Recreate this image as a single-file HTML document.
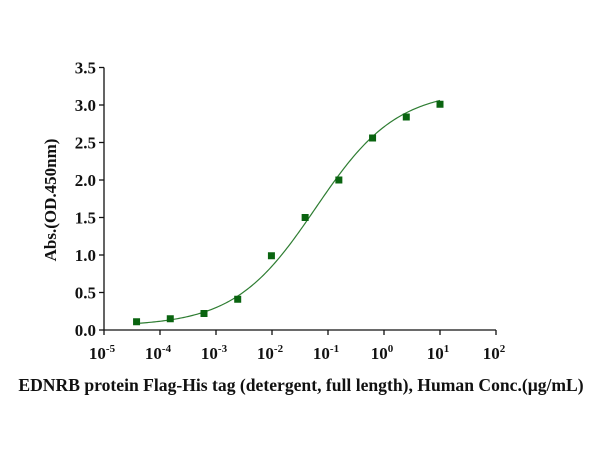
<!DOCTYPE html>
<html><head><meta charset="utf-8"><style>
html,body{margin:0;padding:0;background:#fff;}
svg text{font-family:"Liberation Serif",serif;font-weight:bold;fill:#111;}
</style></head><body>
<svg id="chart" width="600" height="450" viewBox="0 0 600 450" xmlns="http://www.w3.org/2000/svg">
<g id="axes"></g>
<g id="curve"></g>
<g id="points"></g>
<text transform="translate(56,200) rotate(-90)" text-anchor="middle" font-size="17">Abs.(OD.450nm)</text>
<text x="301" y="391" text-anchor="middle" font-size="17.6">EDNRB protein Flag-His tag (detergent, full length), Human Conc.(μg/mL)</text>
</svg>
<script>
const concentrations=[10,2.5,0.625,0.15625,0.0390625,0.009765625,0.00244140625,0.0006103515625,0.000152587890625,0.00003814697265625];
const absorbances=[3.01,2.84,2.56,2.00,1.50,0.99,0.41,0.22,0.15,0.11];
const yTicks=[0,0.5,1.0,1.5,2.0,2.5,3.0,3.5];
const xTickExps=[-5,-4,-3,-2,-1,0,1,2];
const fitParams=[0.05,3.2,0.06,0.6]; // bottom, top, EC50, hill
const NS="http://www.w3.org/2000/svg";
const X0=104,X1=496,Y0=330,Y1=67.5;
function xs(v){return X0+(Math.log10(v)+5)/7*(X1-X0);}
function ys(v){return Y0-v/3.5*(Y0-Y1);}
function mk(tag,attrs,parent){const e=document.createElementNS(NS,tag);for(const k in attrs)e.setAttribute(k,attrs[k]);parent.appendChild(e);return e;}
const axes=document.getElementById('axes');
let l=mk('line',{x1:X0,y1:Y1,x2:X0,y2:Y0,stroke:'#111','stroke-width':1.3},axes);


l=mk('line',{x1:X0,y1:Y0,x2:X1,y2:Y0,stroke:'#111','stroke-width':1.3},axes);


yTicks.forEach(t=>{
  const y=ys(t);
  const tk=mk('line',{x1:X0-5,y1:y,x2:X0,y2:y,stroke:'#111','stroke-width':1.3},axes);
  
  
  const tx=mk('text',{x:X0-8,y:y+6,'text-anchor':'end','font-size':17},axes);
  tx.textContent=t.toFixed(1);
  
  
});
xTickExps.forEach(e=>{
  const x=xs(Math.pow(10,e));
  const tk=mk('line',{x1:x,y1:Y0,x2:x,y2:Y0+5,stroke:'#111','stroke-width':1.3},axes);
  
  
  const tx=mk('text',{x:x-2,y:Y0+29,'text-anchor':'middle','font-size':17},axes);
  
  
  tx.appendChild(document.createTextNode('10'));
  const sp=mk('tspan',{dy:-7,'font-size':11},tx);
  sp.textContent=String(e);
});
function fit(c){const[b,t,ec,h]=fitParams;return b+(t-b)/(1+Math.pow(ec/c,h));}
const lo=Math.log10(Math.min(...concentrations)),hi=Math.log10(Math.max(...concentrations));
let d='';
for(let i=0;i<=200;i++){const lc=lo+(hi-lo)*i/200;const c=Math.pow(10,lc);d+=(i?'L':'M')+xs(c).toFixed(2)+','+ys(fit(c)).toFixed(2);}
const p=mk('path',{d:d,fill:'none',stroke:'#2e7d32','stroke-width':1.2},document.getElementById('curve'));


const pts=document.getElementById('points');
concentrations.forEach((c,i)=>{
  const r=mk('rect',{x:xs(c)-3.5,y:ys(absorbances[i])-3.5,width:7,height:7,fill:'#0a6410'},pts);
  
  
});
</script>
</body></html>
